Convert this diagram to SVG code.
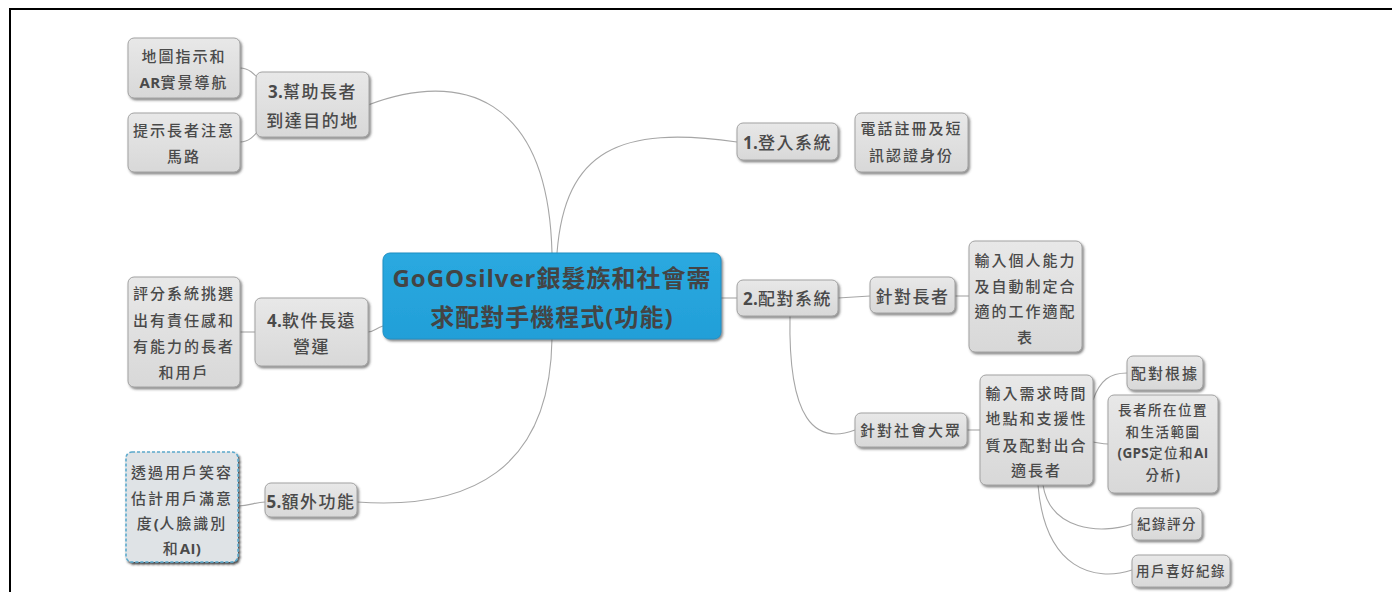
<svg xmlns="http://www.w3.org/2000/svg" width="1392" height="592" viewBox="0 0 1392 592">
<defs>
<linearGradient id="g" x1="0" y1="0" x2="0" y2="1"><stop offset="0" stop-color="#e8e8e8"/><stop offset="1" stop-color="#d8d8d8"/></linearGradient>
<linearGradient id="gb" x1="0" y1="0" x2="0" y2="1"><stop offset="0" stop-color="#2aa9e0"/><stop offset="1" stop-color="#229fd8"/></linearGradient>
<filter id="sh" x="-10%" y="-10%" width="130%" height="130%"><feDropShadow dx="1.5" dy="1.8" stdDeviation="0.8" flood-color="#444" flood-opacity="0.65"/></filter>
<filter id="sh2" x="-10%" y="-10%" width="130%" height="130%"><feDropShadow dx="1.5" dy="2" stdDeviation="0.9" flood-color="#222" flood-opacity="0.85"/></filter>
</defs>
<style>
.n{fill:url(#g);stroke:#a2a2a2;stroke-width:1;filter:url(#sh)}
.c{fill:none;stroke:#a6a6a6;stroke-width:1.1}
text{font-family:"Open Sans","Noto Sans CJK TC","Noto Sans CJK SC",sans-serif;fill:#4a4a4a;text-anchor:middle;dominant-baseline:central}
.t1{font-size:17px;font-weight:500;letter-spacing:1.5px}
.t2{font-size:15px;font-weight:500;letter-spacing:2px}
.t3{font-size:13.5px;font-weight:500;letter-spacing:1.5px}
.tc{font-size:24px;font-weight:bold;letter-spacing:1px;fill:#444444}
.b{font-weight:bold;letter-spacing:0.3px}
</style>
<rect width="1392" height="592" fill="#ffffff"/>
<path d="M9,9 H1392 M10,9 V592" stroke="#000" stroke-width="2" fill="none"/>
<g id="connectors">
<path class="c" d="M552,253 C548,95 460,70 368,105"/>
<path class="c" d="M557,253 C565,150 620,125 737,142"/>
<path class="c" d="M552,339 C550,470 470,510 357,502"/>
<path class="c" d="M383,326 C376,328 374,332 368,332"/>
<path class="c" d="M721,298 L737,298"/>
<path class="c" d="M838,298 L870,296"/>
<path class="c" d="M790,316 C788,420 815,445 855,430"/>
<path class="c" d="M955,296 L969,296"/>
<path class="c" d="M967,430 L980,430"/>
<path class="c" d="M1093,400 C1100,380 1110,373 1127,373"/>
<path class="c" d="M1093,442 C1100,443 1102,444 1108,444"/>
<path class="c" d="M1043,485 C1050,530 1100,535 1132,524"/>
<path class="c" d="M1038,485 C1045,570 1095,582 1132,570"/>
<path class="c" d="M312,104 C262,104 262,68 240,68"/>
<path class="c" d="M312,104 C262,104 262,142 240,142"/>
<path class="c" d="M240,332 L255,332"/>
<path class="c" d="M238,506 C250,506 255,502 265,502"/>
</g>
<g id="central">
<rect x="383" y="253" width="338" height="86" rx="7" fill="url(#gb)" stroke="#1f8fc2" stroke-width="1" filter="url(#sh)"/>
<text class="tc" x="552" y="277">GoGOsilver銀髮族和社會需</text>
<text class="tc" x="552" y="316">求配對手機程式(功能)</text>
</g>
<g id="n3">
<rect class="n" x="256" y="72" width="113" height="65" rx="6"/>
<text class="t1" x="312.5" y="91"><tspan class="b">3.</tspan>幫助長者</text>
<text class="t1" x="312.5" y="120">到達目的地</text>
</g>
<g id="n3a">
<rect class="n" x="128" y="38" width="112" height="60" rx="6"/>
<text class="t2" x="184" y="56">地圖指示和</text>
<text class="t2" x="184" y="82"><tspan class="b">AR</tspan>實景導航</text>
</g>
<g id="n3b">
<rect class="n" x="128" y="113" width="112" height="59" rx="6"/>
<text class="t2" x="184" y="130">提示長者注意</text>
<text class="t2" x="184" y="156">馬路</text>
</g>
<g id="n1">
<rect class="n" x="737" y="123" width="101" height="37" rx="6"/>
<text class="t1" x="787.5" y="142"><tspan class="b">1.</tspan>登入系統</text>
</g>
<g id="n1a">
<rect class="n" x="855" y="113" width="113" height="59" rx="6"/>
<text class="t2" x="911.5" y="128">電話註冊及短</text>
<text class="t2" x="911.5" y="155">訊認證身份</text>
</g>
<g id="n2">
<rect class="n" x="737" y="280" width="101" height="36" rx="6"/>
<text class="t1" x="787.5" y="298"><tspan class="b">2.</tspan>配對系統</text>
</g>
<g id="n2a">
<rect class="n" x="870" y="277" width="85" height="36" rx="6"/>
<text class="t1" x="912.5" y="296">針對長者</text>
</g>
<g id="n2a1">
<rect class="n" x="969" y="241" width="113" height="111" rx="6"/>
<text class="t2" x="1025.5" y="260">輸入個人能力</text>
<text class="t2" x="1025.5" y="286">及自動制定合</text>
<text class="t2" x="1025.5" y="311">適的工作適配</text>
<text class="t2" x="1025.5" y="337">表</text>
</g>
<g id="n2b">
<rect class="n" x="855" y="413" width="112" height="34" rx="6"/>
<text class="t2" x="911" y="430">針對社會大眾</text>
</g>
<g id="n2b1">
<rect class="n" x="980" y="375" width="113" height="110" rx="6"/>
<text class="t2" x="1036.5" y="393">輸入需求時間</text>
<text class="t2" x="1036.5" y="418">地點和支援性</text>
<text class="t2" x="1036.5" y="445">質及配對出合</text>
<text class="t2" x="1036.5" y="470">適長者</text>
</g>
<g id="n2b1a">
<rect class="n" x="1127" y="356" width="76" height="34" rx="6"/>
<text class="t2" x="1165" y="373">配對根據</text>
</g>
<g id="n2b1b">
<rect class="n" x="1108" y="395" width="110" height="98" rx="6"/>
<text class="t3" x="1163" y="410">長者所在位置</text>
<text class="t3" x="1163" y="432">和生活範圍</text>
<text class="t3" x="1163" y="453"><tspan class="b">(GPS</tspan>定位和<tspan class="b">AI</tspan></text>
<text class="t3" x="1163" y="475">分析<tspan class="b">)</tspan></text>
</g>
<g id="n2b1c">
<rect class="n" x="1132" y="508" width="70" height="32" rx="6"/>
<text class="t3" x="1167" y="524">紀錄評分</text>
</g>
<g id="n2b1d">
<rect class="n" x="1132" y="555" width="98" height="32" rx="6"/>
<text class="t3" x="1181" y="571">用戶喜好紀錄</text>
</g>
<g id="n4">
<rect class="n" x="255" y="298" width="113" height="68" rx="6"/>
<text class="t1" x="311.5" y="320"><tspan class="b">4.</tspan>軟件長遠</text>
<text class="t1" x="311.5" y="346">營運</text>
</g>
<g id="n4a">
<rect class="n" x="128" y="277" width="112" height="110" rx="6"/>
<text class="t2" x="184" y="293">評分系統挑選</text>
<text class="t2" x="184" y="320">出有責任感和</text>
<text class="t2" x="184" y="346">有能力的長者</text>
<text class="t2" x="184" y="372">和用戶</text>
</g>
<g id="n5">
<rect class="n" x="265" y="483" width="92" height="34" rx="6"/>
<text class="t1" x="311" y="501"><tspan class="b">5.</tspan>額外功能</text>
</g>
<g id="n5a">
<rect x="126" y="452" width="112" height="110" rx="6" fill="#dfe3e6" stroke="#5ba9cc" stroke-width="1.6" stroke-dasharray="3 2" filter="url(#sh2)"/>
<text class="t2" x="182" y="472">透過用戶笑容</text>
<text class="t2" x="182" y="498">估計用戶滿意</text>
<text class="t2" x="182" y="523">度<tspan class="b">(</tspan>人臉識別</text>
<text class="t2" x="182" y="548">和<tspan class="b">AI)</tspan></text>
</g>
</svg>
